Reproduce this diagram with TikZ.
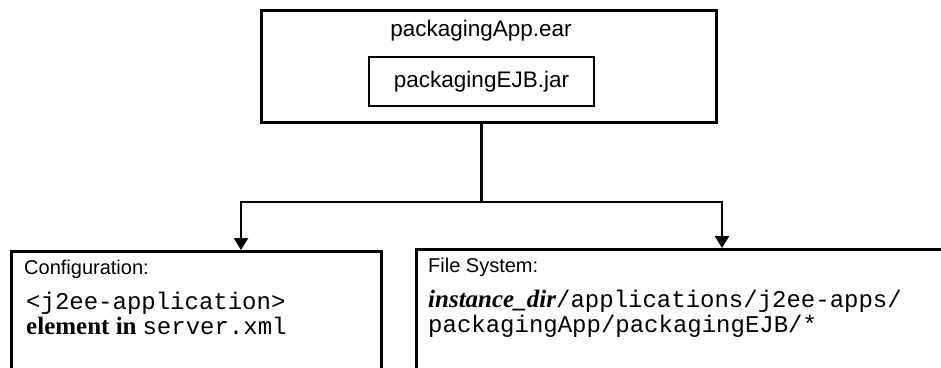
\documentclass[tikz,border=0pt]{standalone}
\usepackage{fontspec}
\setmainfont{Liberation Serif}
\setsansfont{Liberation Sans}
\setmonofont{Liberation Mono}
\usetikzlibrary{arrows.meta,positioning}

\newcommand{\serifpart}[1]{{\fontsize{25}{25}\selectfont\bfseries #1}}

\tikzset{
    filebox/.style={
        draw,
        line width=2.5pt,
        rectangle,
        inner sep=0pt,
        anchor=north west
    },
    boxtitle/.style={
        font=\fontsize{20}{24}\selectfont\sffamily,
        anchor=base west,
        inner sep=0pt
    },
    boxbody/.style={
        font=\fontsize{24}{25}\selectfont,
        align=left,
        anchor=base west,
        inner sep=0pt
    },
    flow/.style={
        line width=2.5pt,
        -{Triangle[width=14pt,length=12pt]}
    }
}

\begin{document}
\begin{tikzpicture}[x=1pt,y=-1pt]
                \useasboundingbox (0,0) rectangle (941,367);
                \clip (0,0) rectangle (941,367);

                % archive
                \node[
                    filebox,
                    minimum width=455,
                    minimum height=112
                    ] (ear) at (260,9) {};
                \node[
                    font=\fontsize{22.5}{26}\selectfont\sffamily
                    ] (earlabel) at (481,31) {packagingApp.ear};
                \node[
                    draw,
                    line width=2.5pt,
                    minimum width=225,
                    minimum height=49,
                    font=\fontsize{22.5}{26}\selectfont\sffamily
                    ] (ejb) at (481.5,81.5) {packagingEJB.jar};

                % targets
                \node[
                    filebox,
                    minimum width=370,
                    minimum height=200
                    ] (config) at (10,250) {};
                \node[
                    filebox,
                    minimum width=600,
                    minimum height=200
                    ] (filesys) at (415,248) {};

                \node[boxtitle] (configtitle) at (24,274) {Configuration:};
                \node[boxbody] (configtext) at (26,334)
                    {\texttt{<j2ee-application>}\\
                     \serifpart{element in} \texttt{server.xml}};

                \node[boxtitle] (filesystitle) at (428,272) {File System:};
                \node[boxbody] (filesystext) at (428,332)
                    {\serifpart{\itshape instance\_dir}\texttt{/applications/j2ee-apps/}\\
                     \texttt{packagingApp/packagingEJB/*}};

                % connectors
                \coordinate (fork) at (ejb |- 0,202);
                \coordinate (configin) at (241,250);
                \coordinate (filesysin) at (722,248);
                \draw[line width=2.5pt] (ejb.south |- ear.south) -- (fork);
                \draw[flow] (fork) -| (configin);
                \draw[flow] (fork) -| (filesysin);

\end{tikzpicture}
\end{document}
